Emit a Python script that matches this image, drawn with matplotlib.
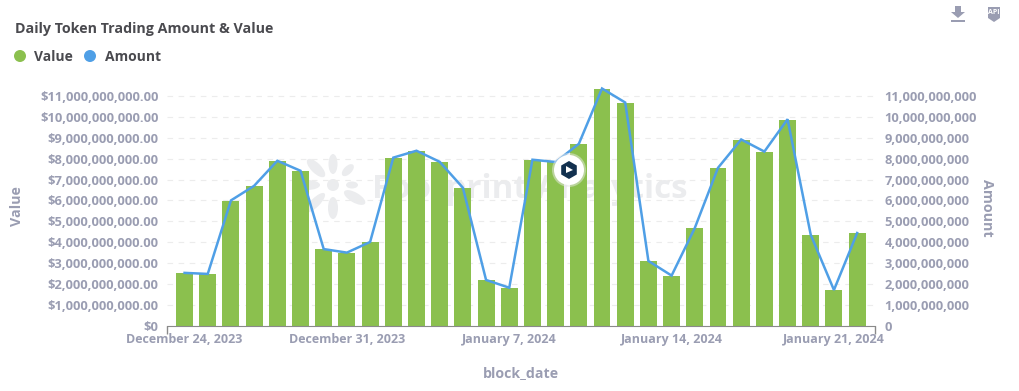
import math
import matplotlib
matplotlib.use('Agg')
import matplotlib.pyplot as plt
import matplotlib.patches as patches
import matplotlib.dates as mdates
import pandas as pd

plt.rcParams['font.family'] = ['Open Sans', 'DejaVu Sans']

# daily data, in billions
dates = pd.date_range('2023-12-24', '2024-01-22', freq='D')
value = [2.52, 2.48, 5.99, 6.69, 7.89, 7.41, 3.67, 3.50, 4.01, 8.05,
         8.37, 7.84, 6.60, 2.19, 1.81, 7.94, 7.86, 8.71, 11.34, 10.67,
         3.10, 2.38, 4.68, 7.56, 8.90, 8.32, 9.86, 4.35, 1.71, 4.44]
amount = [2.53, 2.48, 6.00, 6.70, 7.90, 7.42, 3.67, 3.50, 4.01, 8.05,
          8.38, 7.85, 6.61, 2.19, 1.82, 7.95, 7.84, 8.71, 11.36, 10.69,
          3.10, 2.40, 4.68, 7.56, 8.92, 8.34, 9.89, 4.35, 1.71, 4.44]
tick_billions = list(range(0, 12))
date_ticks = ['2023-12-24', '2023-12-31', '2024-01-07', '2024-01-14', '2024-01-21']
date_labels = ['December 24, 2023', 'December 31, 2023', 'January 7, 2024',
               'January 14, 2024', 'January 21, 2024']

GREEN = '#8bc04e'
BLUE = '#4f9fe6'
GREY = '#9a9db2'
DARK = '#4a4a4f'
WATERMARK = '#ebecee'

W, H = 1020, 391
fig = plt.figure(figsize=(W / 100, H / 100), dpi=100, facecolor='white')


def pixel_axes(z):
    # overlay axes in pixel coordinates of the picture
    a = fig.add_axes([0, 0, 1, 1], zorder=z)
    a.set_xlim(0, W)
    a.set_ylim(H, 0)
    a.axis('off')
    return a


# watermark goes behind the bars
bg = pixel_axes(0)
bg.add_patch(patches.Circle((333, 185), 6, color=WATERMARK, lw=0))
for angle, r, length, width in [(90, 21, 20, 9), (45, 21, 15, 8), (0, 19, 12, 7),
                                (-30, 25, 24, 10), (-90, 23, 22, 10), (-135, 25, 26, 9),
                                (180, 26, 26, 10), (135, 24, 24, 10)]:
    rad = math.radians(angle)
    cx = 333 + r * math.cos(rad)
    cy = 185 - r * math.sin(rad)
    bg.add_patch(patches.Ellipse((cx, cy), length, width, angle=-angle, color=WATERMARK, lw=0))
bg.text(372, 190, 'Footprint Analytics', fontsize=23.8, fontweight='bold', color=WATERMARK,
        va='center', ha='left')

ax = fig.add_axes([166.7 / W, 1 - 325.7 / H, 708.3 / W, 240.1 / H], zorder=1)
ax.patch.set_alpha(0)

ticks_val = [t * 1e9 for t in tick_billions]
left_labels = ['$0'] + [f'${t:,.2f}' for t in ticks_val[1:]]
ax.bar(dates, [v * 1e9 for v in value], width=0.73, color=GREEN, zorder=2)
ax.set_xlim(dates[0] - pd.Timedelta(days=0.77), dates[-1] + pd.Timedelta(days=0.77))
ax.set_ylim(0, 11.5e9)
ax.set_yticks(ticks_val)
ax.set_yticklabels(left_labels, fontsize=9.3, fontweight='bold', color=GREY)
ax.set_xticks([mdates.date2num(pd.Timestamp(d)) for d in date_ticks])
ax.set_xticklabels(date_labels, fontsize=9.0, fontweight='bold', color=GREY)
ax.set_xticks(list(ax.get_xlim()), minor=True)
ax.tick_params(axis='x', which='major', length=0, pad=5)
ax.tick_params(axis='x', which='minor', length=6, color='#8a8a8a', width=1)
ax.tick_params(axis='y', length=0, pad=6)
ax.grid(axis='y', color='#ececec', linestyle=(0, (5, 5)), linewidth=0.8, zorder=0)
ax.set_axisbelow(True)
for s in ['top', 'left', 'right']:
    ax.spines[s].set_visible(False)
ax.spines['bottom'].set_color('#8a8a8a')
ax.set_ylabel('Value', fontsize=10.3, fontweight='bold', color=GREY)
ax.yaxis.set_label_coords((24 - 166.7) / 708.3, 0.5)
ax.set_xlabel('block_date', fontsize=10.2, fontweight='bold', color=GREY)
ax.xaxis.set_label_coords((521 - 166.7) / 708.3, -(366 - 325.7) / 240.1)

ax2 = ax.twinx()
ax2.patch.set_alpha(0)
ax2.set_zorder(2)
ax2.plot(dates, [v * 1e9 for v in amount], color=BLUE, linewidth=1.8, solid_joinstyle='miter')
ax2.set_ylim(0, 11.5e9)
ax2.set_yticks(ticks_val)
ax2.set_yticklabels([f'{t:,.0f}' for t in ticks_val], fontsize=9.3, fontweight='bold', color=GREY)
ax2.tick_params(axis='y', length=0, pad=7)
for s in ax2.spines.values():
    s.set_visible(False)
ax2.set_ylabel('Amount', fontsize=10.3, fontweight='bold', color=GREY, rotation=-90)
ax2.yaxis.set_label_coords((994 - 166.7) / 708.3, 0.49)

# title, legend, icons and logo badge
fg = pixel_axes(3)
fg.text(15, 29, 'Daily Token Trading Amount & Value', fontsize=10.25, fontweight='bold',
        color=DARK, va='center')
fg.add_patch(patches.Circle((20, 56), 6, color=GREEN, lw=0))
fg.text(34, 57, 'Value', fontsize=10, fontweight='bold', color=DARK, va='center')
fg.add_patch(patches.Circle((90, 56), 6, color=BLUE, lw=0))
fg.text(105, 57, 'Amount', fontsize=10, fontweight='bold', color=DARK, va='center')

# download icon
fg.add_patch(patches.Polygon([(955, 6), (961, 6), (961, 12), (965, 12), (958, 18), (951, 12), (955, 12)],
                             color=GREY, lw=0))
fg.add_patch(patches.Rectangle((951, 20), 14, 2, color=GREY, lw=0))
# api icon
fg.add_patch(patches.Polygon([(988, 7), (1000, 7), (1000, 18), (994, 22), (988, 18)], color=GREY, lw=0))
fg.text(994, 12, 'API', fontsize=5, color='white', ha='center', va='center', fontweight='bold')

# logo badge
fg.add_patch(patches.Circle((569, 170), 17, color='#e9e9e9', alpha=0.5, lw=0))
fg.add_patch(patches.Circle((569, 170), 15, color='white', lw=0))
fg.add_patch(patches.RegularPolygon((569, 170), 6, radius=9, color='#12304e', lw=0))
fg.add_patch(patches.Polygon([(566, 173), (573, 170), (566, 166)], color='white', lw=0))

fig.savefig('out.png', dpi=100)
